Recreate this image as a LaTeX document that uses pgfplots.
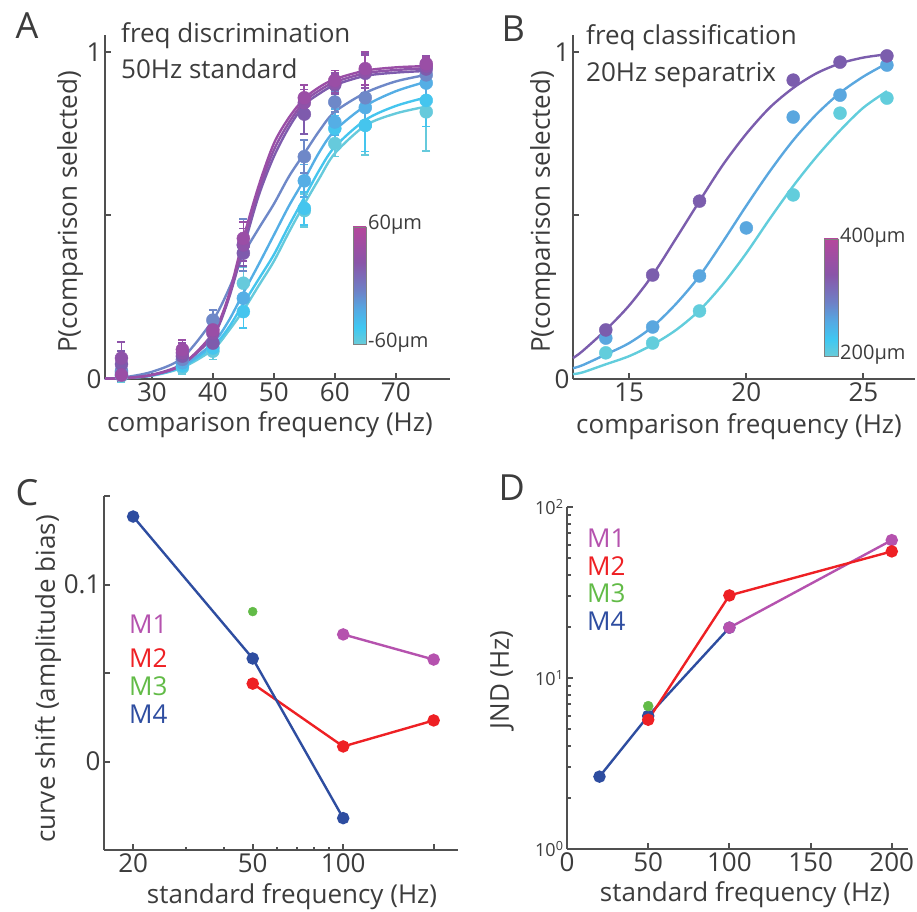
\documentclass[border=0pt]{standalone}
\usepackage{fontspec}
\setmainfont{Open Sans}
\usepackage{pgfplots}
\pgfplotsset{compat=1.18}

\definecolor{txt}{HTML}{3C3C3C}
\definecolor{axc}{HTML}{505050}
% amplitude-coded series (panel A: +60um ... -60um)
\definecolor{sA1}{HTML}{9A4EA6}
\definecolor{sA2}{HTML}{8E53A9}
\definecolor{sA3}{HTML}{7E5BAD}
\definecolor{sA4}{HTML}{6E88C8}
\definecolor{sA5}{HTML}{55AEE5}
\definecolor{sA6}{HTML}{45C5EE}
\definecolor{sA7}{HTML}{66CADC}
% panel B (400um, 300um, 200um)
\definecolor{sB1}{HTML}{7B5DAD}
\definecolor{sB2}{HTML}{5AA7DF}
\definecolor{sB3}{HTML}{62CDDC}
% monkeys
\definecolor{mOne}{HTML}{B552AE}
\definecolor{mTwo}{HTML}{EE2024}
\definecolor{mThree}{HTML}{62BB47}
\definecolor{mFour}{HTML}{2E4DA0}
% colour bar stops
\definecolor{cb0}{HTML}{6ACBD8}
\definecolor{cb1}{HTML}{3FC8F2}
\definecolor{cb2}{HTML}{55A8E2}
\definecolor{cb3}{HTML}{6E80C6}
\definecolor{cb4}{HTML}{8A55A8}
\definecolor{cb5}{HTML}{B4479C}

\pgfdeclareverticalshading{ampbar}{100bp}{color(0bp)=(cb0); color(25bp)=(cb0); color(32bp)=(cb1); color(40bp)=(cb2); color(48bp)=(cb3); color(60bp)=(cb4); color(75bp)=(cb5); color(100bp)=(cb5)}

\newcommand{\lblfont}{\fontsize{26}{31}\selectfont}
\newcommand{\cbfont}{\fontsize{20}{24}\selectfont}
\newcommand{\letterfont}{\fontsize{36}{40}\selectfont}

\pgfplotsset{
  panel/.style={
    scale only axis, clip=false, enlargelimits=false,
    axis x line=bottom, axis y line=left,
    axis line style={-, draw=axc, line width=2.4pt},
    tick align=inside,
    major tick length=6pt, minor tick length=3.5pt,
    tick style={draw=axc, line width=2pt},
    tick label style={font=\lblfont, text=txt},
  },
  fitline/.style={line width=2.4pt, smooth, no marks},
  dots/.style={only marks, mark=*, mark size=6.5pt, mark options={solid},
    error bars/.cd, y dir=both, y explicit,
    error bar style={line width=1.7pt},
    error mark options={rotate=90, mark size=4pt, line width=1.7pt}},
  jline/.style={line width=2.4pt, mark=*, mark size=5pt},
}

\begin{document}
\begin{tikzpicture}[x=1pt,y=1pt]
\useasboundingbox (0,0) rectangle (917,911);

% ---------------- A: frequency discrimination ----------------
\begin{axis}[panel, at={(105pt,532pt)}, anchor=south west,
  width=345pt, height=344pt,
  xmin=22.3, xmax=78.9, ymin=0, ymax=1.052,
  xtick={30,40,50,60,70}, xticklabels={30,40,50,60,70},
  ytick={0,0.5,1}, yticklabels={0,,1}]
\addplot[sA7, fitline] coordinates {(22.3,0.001)(25,0.002)(30,0.010)(35,0.035)(40,0.09)(42.5,0.145)(45,0.21)(47.5,0.285)(50,0.36)(52.5,0.45)(55,0.535)(57.5,0.615)(60,0.69)(65,0.775)(70,0.812)(75,0.833)};
\addplot[sA6, fitline] coordinates {(22.3,0.001)(25,0.002)(30,0.011)(35,0.038)(40,0.10)(42.5,0.155)(45,0.23)(47.5,0.305)(50,0.38)(52.5,0.47)(55,0.555)(57.5,0.64)(60,0.71)(65,0.792)(70,0.835)(75,0.861)};
\addplot[sA5, fitline] coordinates {(22.3,0.001)(25,0.002)(30,0.012)(35,0.04)(40,0.11)(42.5,0.175)(45,0.263)(47.5,0.35)(50,0.44)(52.5,0.53)(55,0.61)(57.5,0.695)(60,0.76)(65,0.835)(70,0.88)(75,0.909)};
\addplot[sA4, fitline] coordinates {(22.3,0.002)(25,0.004)(30,0.022)(35,0.065)(40,0.18)(42.5,0.27)(45,0.38)(47.5,0.46)(50,0.535)(52.5,0.62)(55,0.69)(57.5,0.76)(60,0.817)(65,0.875)(70,0.91)(75,0.93)};
\addplot[sA3, fitline] coordinates {(22.3,0.001)(25,0.002)(30,0.013)(35,0.046)(40,0.13)(42.5,0.24)(45,0.40)(47.5,0.56)(50,0.68)(52.5,0.77)(55,0.838)(57.5,0.873)(60,0.899)(65,0.927)(70,0.937)(75,0.942)};
\addplot[sA2, fitline] coordinates {(22.3,0.001)(25,0.002)(30,0.012)(35,0.044)(40,0.135)(42.5,0.245)(45,0.415)(47.5,0.575)(50,0.70)(52.5,0.785)(55,0.848)(57.5,0.883)(60,0.908)(65,0.935)(70,0.945)(75,0.950)};
\addplot[sA1, fitline] coordinates {(22.3,0.001)(25,0.002)(30,0.012)(35,0.045)(40,0.14)(42.5,0.25)(45,0.43)(47.5,0.59)(50,0.72)(52.5,0.80)(55,0.858)(57.5,0.893)(60,0.917)(65,0.943)(70,0.953)(75,0.957)};

\addplot[sA7, dots] table[x=x, y=y, y error=e] {
x  y     e
25 0.010 0.02
35 0.035 0.02
40 0.085 0.025
45 0.293 0.05
55 0.515 0.05
60 0.720 0.04
65 0.776 0.09
75 0.817 0.12
};
\addplot[sA6, dots] table[x=x, y=y, y error=e] {
x  y     e
25 0.015 0.02
35 0.040 0.02
40 0.095 0.02
45 0.206 0.05
55 0.522 0.05
60 0.766 0.04
65 0.776 0.08
75 0.852 0.08
};
\addplot[sA5, dots] table[x=x, y=y, y error=e] {
x  y     e
25 0.020 0.02
35 0.050 0.02
40 0.110 0.02
45 0.247 0.05
55 0.606 0.05
60 0.786 0.04
65 0.830 0.06
75 0.905 0.04
};
\addplot[sA4, dots] table[x=x, y=y, y error=e] {
x  y     e
25 0.025 0.03
35 0.060 0.02
40 0.180 0.03
45 0.410 0.08
55 0.680 0.05
60 0.847 0.03
65 0.860 0.04
75 0.930 0.03
};
\addplot[sA3, dots] table[x=x, y=y, y error=e] {
x  y     e
25 0.045 0.04
35 0.070 0.03
40 0.110 0.03
45 0.385 0.04
55 0.810 0.06
60 0.900 0.03
65 0.935 0.06
75 0.948 0.03
};
\addplot[sA2, dots] table[x=x, y=y, y error=e] {
x  y     e
25 0.064 0.05
35 0.080 0.03
40 0.140 0.03
45 0.410 0.05
55 0.845 0.04
60 0.905 0.03
65 0.940 0.05
75 0.957 0.03
};
\addplot[sA1, dots] table[x=x, y=y, y error=e] {
x  y     e
25 0.012 0.02
35 0.090 0.03
40 0.150 0.03
45 0.430 0.05
55 0.860 0.04
60 0.913 0.03
65 0.949 0.05
75 0.964 0.02
};
\end{axis}

% ---------------- B: frequency classification ----------------
\begin{axis}[panel, at={(573pt,532pt)}, anchor=south west,
  width=342pt, height=344pt,
  xmin=12.6, xmax=27.2, ymin=0, ymax=1.052,
  xtick={15,20,25}, xticklabels={15,20,25},
  ytick={0,0.5,1}, yticklabels={0,,1}]
\addplot[sB3, fitline] coordinates {(12.6,0.015)(13,0.02)(14,0.045)(15,0.07)(16,0.105)(17,0.15)(18,0.21)(19,0.29)(20,0.385)(21,0.49)(22,0.59)(23,0.68)(24,0.76)(25,0.83)(26,0.88)};
\addplot[sB2, fitline] coordinates {(12.6,0.033)(13,0.042)(14,0.075)(15,0.11)(16,0.16)(17,0.23)(18,0.315)(19,0.42)(20,0.53)(21,0.635)(22,0.73)(23,0.81)(24,0.875)(25,0.925)(26,0.965)};
\addplot[sB1, fitline] coordinates {(12.6,0.064)(13,0.085)(14,0.15)(15,0.225)(16,0.318)(17,0.43)(18,0.544)(19,0.655)(20,0.75)(21,0.83)(22,0.89)(23,0.935)(24,0.965)(25,0.983)(26,0.993)};
\addplot[sB3, only marks, mark=*, mark size=6.5pt] coordinates {(14,0.080)(16,0.110)(18,0.208)(22,0.563)(24,0.813)(26,0.859)};
\addplot[sB2, only marks, mark=*, mark size=6.5pt] coordinates {(14,0.125)(16,0.159)(18,0.315)(20,0.462)(22,0.801)(24,0.868)(26,0.960)};
\addplot[sB1, only marks, mark=*, mark size=6.5pt] coordinates {(14,0.150)(16,0.318)(18,0.544)(22,0.914)(24,0.969)(26,0.988)};
\end{axis}

% ---------------- C: amplitude bias ----------------
\begin{axis}[panel, at={(104pt,61pt)}, anchor=south west,
  width=354pt, height=354pt,
  xmode=log, xmin=16, xmax=241, ymin=-0.05, ymax=0.15,
  xtick={20,50,100,200}, xticklabels={20,50,100,},
  minor xtick={30,40,60,70,80,90},
  ytick={0,0.05,0.1,0.15}, yticklabels={0,,0.1,}]
\addplot[mTwo, jline] coordinates {(50,0.044)(100,0.0085)(200,0.0232)};
\addplot[mOne, jline] coordinates {(100,0.0718)(200,0.0576)};
\addplot[mFour, jline] coordinates {(20,0.1384)(50,0.0582)(100,-0.032)};
\addplot[mThree, only marks, mark=*, mark size=4.5pt] coordinates {(50,0.0847)};
\end{axis}

% ---------------- D: JND ----------------
\begin{axis}[panel, at={(567pt,62pt)}, anchor=south west,
  width=341pt, height=342pt,
  xmin=0, xmax=210, ymode=log, ymin=1, ymax=100,
  xtick={0,50,100,150,200}, xticklabels={0,50,100,150,200},
  ytick={1,10,100},
  yticklabels={10\textsuperscript{0},10\textsuperscript{1},10\textsuperscript{2}},
  minor ytick={2,3,4,5,6,7,8,9,20,30,40,50,60,70,80,90},
  yticklabel style={font=\fontsize{18}{22}\selectfont}]
\addplot[mFour, jline] coordinates {(20,2.65)(50,6.0)(100,19.7)};
\addplot[mOne, jline] coordinates {(100,19.7)(200,64)};
\addplot[mTwo, jline] coordinates {(50,5.7)(100,30.4)(200,55)};
\addplot[mThree, only marks, mark=*, mark size=5pt] coordinates {(50,6.85)};
\end{axis}

% ---------------- labels and annotations ----------------
\begin{scope}[text=txt]
% panel letters
\node[anchor=base west, font=\letterfont] at (12,872) {A};
\node[anchor=base west, font=\letterfont] at (498,869) {B};
\node[anchor=base west, font=\letterfont] at (12,406) {C};
\node[anchor=base west, font=\letterfont] at (495,410) {D};
% axis titles
\node[font=\lblfont] at (270,486) {comparison frequency (Hz)};
\node[font=\lblfont, rotate=90] at (70,699) {P(comparison selected)};
\node[font=\lblfont] at (739,484) {comparison frequency (Hz)};
\node[font=\lblfont, rotate=90] at (543,699) {P(comparison selected)};
\node[font=\lblfont] at (292,14) {standard frequency (Hz)};
\node[font=\lblfont, rotate=90] at (48,232) {curve shift (amplitude bias)};
\node[font=\lblfont] at (745,16) {standard frequency (Hz)};
\node[font=\lblfont, rotate=90] at (502,231) {JND (Hz)};
% in-panel titles
\node[font=\lblfont, anchor=base west, inner sep=0pt] at (121,868) {freq discrimination};
\node[font=\lblfont, anchor=base west, inner sep=0pt] at (121,832) {50Hz standard};
\node[font=\lblfont, anchor=base west, inner sep=0pt] at (586,866) {freq classification};
\node[font=\lblfont, anchor=base west, inner sep=0pt] at (586,829) {20Hz separatrix};
% colour bars
\shade[shading=ampbar] (353,567) rectangle (366,684);
\draw[gray, line width=0.8pt] (353,567) rectangle (366,684);
\node[font=\cbfont, anchor=west, inner sep=1pt] at (367,686) {60µm};
\node[font=\cbfont, anchor=west, inner sep=1pt] at (367,568) {-60µm};
\shade[shading=ampbar] (824,555) rectangle (838,672);
\draw[gray, line width=0.8pt] (824,555) rectangle (838,672);
\node[font=\cbfont, anchor=west, inner sep=1pt] at (839,673) {400µm};
\node[font=\cbfont, anchor=west, inner sep=1pt] at (839,556) {200µm};
\end{scope}
% monkey keys
\node[font=\lblfont, anchor=base west, inner sep=0pt, text=mOne] at (129,278) {M1};
\node[font=\lblfont, anchor=base west, inner sep=0pt, text=mTwo] at (129,244) {M2};
\node[font=\lblfont, anchor=base west, inner sep=0pt, text=mThree] at (129,216) {M3};
\node[font=\lblfont, anchor=base west, inner sep=0pt, text=mFour] at (129,188) {M4};
\node[font=\lblfont, anchor=base west, inner sep=0pt, text=mOne] at (587,364) {M1};
\node[font=\lblfont, anchor=base west, inner sep=0pt, text=mTwo] at (587,336) {M2};
\node[font=\lblfont, anchor=base west, inner sep=0pt, text=mThree] at (587,309) {M3};
\node[font=\lblfont, anchor=base west, inner sep=0pt, text=mFour] at (587,281) {M4};
\end{tikzpicture}
\end{document}
